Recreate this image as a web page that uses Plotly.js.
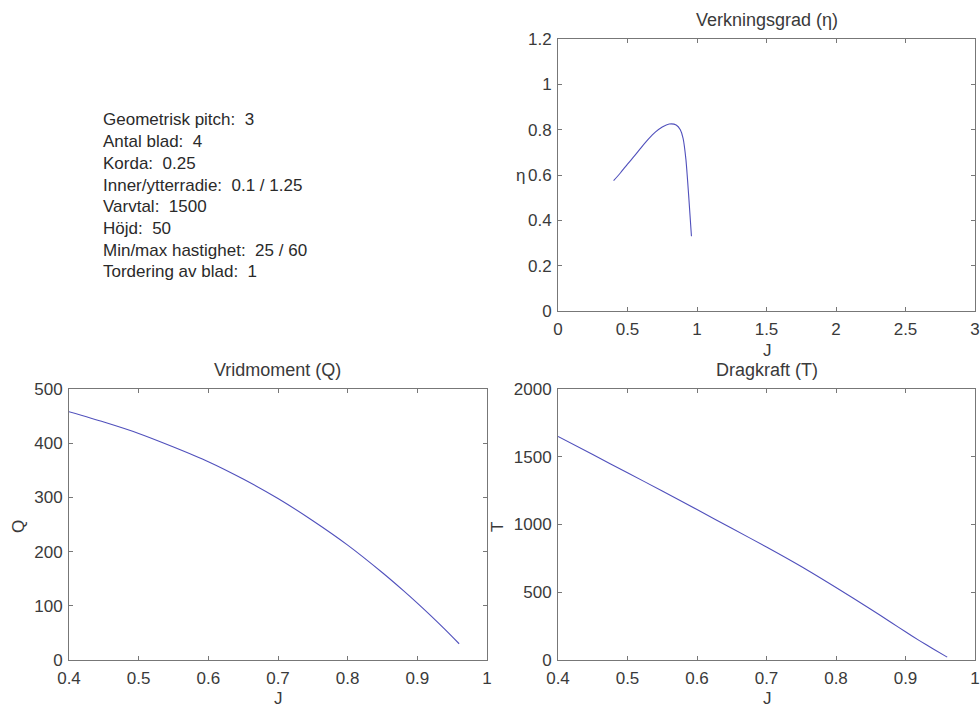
<!DOCTYPE html>
<html>
<head>
<meta charset="utf-8">
<script src="https://cdn.plot.ly/plotly-3.0.1.min.js"></script>
<style>html,body{margin:0;padding:0;background:#fff;}#plot{width:980px;height:709px;}</style>
</head>
<body>
<div id="plot"></div>
<script>
// Advance ratio J
const J = [0.40, 0.45, 0.50, 0.55, 0.60, 0.65, 0.70, 0.75, 0.80, 0.85, 0.88, 0.90, 0.92, 0.94, 0.96];
// Efficiency (eta)
const eta = [0.575, 0.61, 0.648, 0.684, 0.722, 0.758, 0.789, 0.812, 0.825, 0.821, 0.80, 0.762, 0.67, 0.51, 0.33];
// Torque Q
const Q = [458, 439, 418, 393, 366, 334, 298, 257, 212, 161, 128, 105, 81, 56, 30];
// Thrust T
const T = [1650, 1516, 1382, 1247, 1110, 972, 834, 690, 535, 375, 275, 208, 143, 81, 21];

const infoLines = [
  "Geometrisk pitch:  3",
  "Antal blad:  4",
  "Korda:  0.25",
  "Inner/ytterradie:  0.1 / 1.25",
  "Varvtal:  1500",
  "Höjd:  50",
  "Min/max hastighet:  25 / 60",
  "Tordering av blad:  1"
];

const W = 980, H = 709;
const px = v => v / W;
const py = v => 1 - v / H;

const lineStyle = {color: '#5050bc', width: 1.1, shape: 'spline', smoothing: 0.7};
const FAM = 'Liberation Sans, Arial, sans-serif';
const tickFont = {family: FAM, size: 17, color: '#3a3a3a'};
const titleFont = {family: FAM, size: 18, color: '#3a3a3a'};
const labFont = {family: FAM, size: 17, color: '#3a3a3a'};

const traces = [
  {x: J, y: eta, type: 'scatter', mode: 'lines', line: lineStyle, xaxis: 'x', yaxis: 'y'},
  {x: J, y: Q, type: 'scatter', mode: 'lines', line: lineStyle, xaxis: 'x2', yaxis: 'y2'},
  {x: J, y: T, type: 'scatter', mode: 'lines', line: lineStyle, xaxis: 'x3', yaxis: 'y3'}
];

function ax(extra) {
  return Object.assign({
    showline: true, mirror: 'ticks', linecolor: '#777', linewidth: 1,
    ticks: 'inside', ticklen: 4, tickcolor: '#777',
    showgrid: false, zeroline: false,
    tickfont: tickFont, fixedrange: true
  }, extra);
}

const xDomL = [px(69), px(487)];
const xDomR = [px(558), px(975)];
const yDomT = [py(311), py(39)];
const yDomB = [py(660), py(389)];

const annotations = [
  {text: 'Verkningsgrad (η)', x: px(767), y: py(20), font: titleFont},
  {text: 'Vridmoment (Q)', x: px(277), y: py(370), font: titleFont},
  {text: 'Dragkraft (T)', x: px(767), y: py(370), font: titleFont},
  {text: 'J', x: px(767), y: py(350), font: labFont},
  {text: 'J', x: px(278), y: py(698), font: labFont},
  {text: 'J', x: px(767), y: py(698), font: labFont},
  {text: 'η', x: px(520), y: py(175), font: labFont},
  {text: 'Q', x: px(18), y: py(527), font: labFont, textangle: -90},
  {text: 'T', x: px(497), y: py(527), font: labFont, textangle: -90}
].map(a => Object.assign({xref: 'paper', yref: 'paper', xanchor: 'center', yanchor: 'middle', showarrow: false}, a));

infoLines.forEach((t, i) => {
  annotations.push({text: t, x: px(101), y: py(120 + i * 21.7), xref: 'paper', yref: 'paper',
    xanchor: 'left', yanchor: 'middle', showarrow: false, align: 'left',
    font: {family: FAM, size: 17, color: '#2a2a2a'}});
});

const layout = {
  width: W, height: H,
  margin: {l: 0, r: 0, t: 0, b: 0},
  paper_bgcolor: '#fff', plot_bgcolor: '#fff',
  showlegend: false,
  font: tickFont,
  xaxis: ax({domain: xDomR, range: [0, 3], tickvals: [0, 0.5, 1, 1.5, 2, 2.5, 3], ticktext: ['0','0.5','1','1.5','2','2.5','3'], anchor: 'y', ticklabelstandoff: 3}),
  yaxis: ax({domain: yDomT, range: [0, 1.2], tickvals: [0, 0.2, 0.4, 0.6, 0.8, 1, 1.2], ticktext: ['0','0.2','0.4','0.6','0.8','1','1.2'], anchor: 'x', ticklabelstandoff: 2}),
  xaxis2: ax({domain: xDomL, range: [0.4, 1], tickvals: [0.4, 0.5, 0.6, 0.7, 0.8, 0.9, 1], ticktext: ['0.4','0.5','0.6','0.7','0.8','0.9','1'], anchor: 'y2', ticklabelstandoff: 3}),
  yaxis2: ax({domain: yDomB, range: [0, 500], tickvals: [0, 100, 200, 300, 400, 500], anchor: 'x2', ticklabelstandoff: 2}),
  xaxis3: ax({domain: xDomR, range: [0.4, 1], tickvals: [0.4, 0.5, 0.6, 0.7, 0.8, 0.9, 1], ticktext: ['0.4','0.5','0.6','0.7','0.8','0.9','1'], anchor: 'y3', ticklabelstandoff: 3}),
  yaxis3: ax({domain: yDomB, range: [0, 2000], tickvals: [0, 500, 1000, 1500, 2000], anchor: 'x3', ticklabelstandoff: 2}),
  annotations: annotations
};

Plotly.newPlot('plot', traces, layout, {staticPlot: true, displayModeBar: false});
</script>
</body>
</html>
